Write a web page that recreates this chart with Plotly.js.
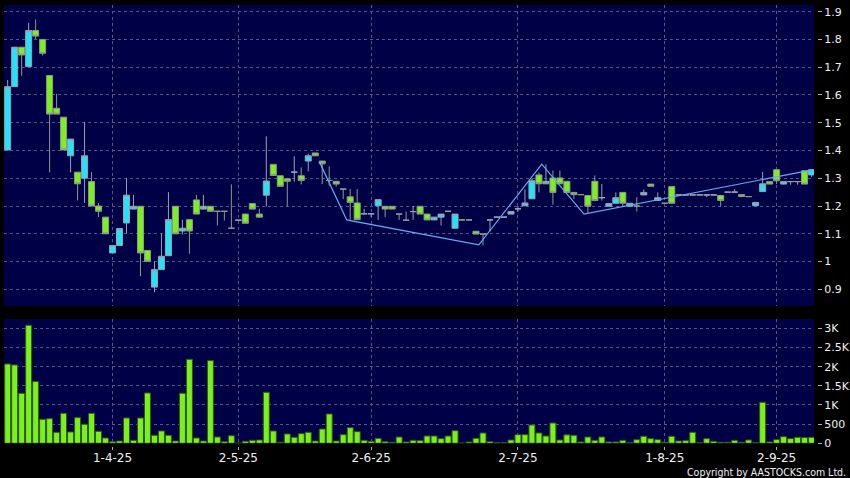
<!DOCTYPE html>
<html>
<head>
<meta charset="utf-8">
<script src="https://cdn.plot.ly/plotly-3.0.1.min.js"></script>
<style>
html,body{margin:0;padding:0;background:#000;}
#chart{width:850px;height:478px;}
</style>
</head>
<body>
<div id="chart"></div>
<script>
// ---- data ----
const openP = [1.402,1.630,1.772,1.702,1.832,1.800,1.670,1.552,1.520,1.381,
  1.322,1.300,1.288,1.200,1.160,1.031,1.058,1.139,1.189,1.199,
  1.040,0.908,0.971,1.021,1.199,1.110,1.151,1.222,1.189,1.199,
  1.181,1.181,1.120,1.149,1.171,1.209,1.171,1.239,1.350,1.309,
  1.298,1.322,1.309,1.362,1.391,1.362,1.292,1.289,1.261,1.233,
  1.211,1.172,1.172,1.201,1.199,1.199,1.171,1.149,1.180,1.199,
  1.171,1.150,1.160,1.181,1.120,1.150,1.150,1.109,1.099,1.150,
  1.160,1.160,1.171,1.190,1.201,1.226,1.312,1.280,1.301,1.301,
  1.289,1.249,1.241,1.238,1.289,1.230,1.199,1.210,1.249,1.199,
  1.200,1.240,1.279,1.220,1.210,1.270,1.240,1.240,1.240,1.240,
  1.240,1.240,1.238,1.250,1.250,1.241,1.234,1.201,1.252,1.288,
  1.331,1.279,1.288,1.288,1.327,1.312];
const highP = [1.654,1.772,1.772,1.860,1.872,1.800,1.670,1.604,1.520,1.441,
  1.322,1.502,1.322,1.211,1.160,1.058,1.119,1.300,1.240,1.200,
  1.040,1.000,1.100,1.250,1.199,1.151,1.151,1.240,1.240,1.199,
  1.181,1.181,1.278,1.149,1.171,1.209,1.190,1.451,1.350,1.309,
  1.298,1.379,1.339,1.389,1.391,1.362,1.343,1.289,1.261,1.261,
  1.261,1.190,1.172,1.223,1.199,1.199,1.171,1.180,1.200,1.199,
  1.171,1.160,1.171,1.181,1.171,1.150,1.150,1.109,1.099,1.150,
  1.160,1.160,1.180,1.200,1.260,1.298,1.321,1.350,1.328,1.328,
  1.289,1.249,1.241,1.238,1.310,1.279,1.209,1.249,1.249,1.210,
  1.232,1.260,1.279,1.249,1.210,1.270,1.240,1.240,1.240,1.240,
  1.240,1.240,1.238,1.250,1.261,1.241,1.234,1.213,1.323,1.288,
  1.331,1.288,1.288,1.288,1.327,1.331];
const lowP = [1.400,1.630,1.669,1.702,1.800,1.742,1.321,1.531,1.402,1.321,
  1.220,1.211,1.200,1.160,1.100,1.031,1.058,1.100,1.189,0.947,
  1.000,0.889,0.971,1.021,1.100,1.097,1.028,1.171,1.189,1.181,
  1.130,1.148,1.120,1.149,1.138,1.189,1.160,1.198,1.310,1.271,
  1.198,1.288,1.278,1.325,1.381,1.279,1.273,1.270,1.225,1.151,
  1.151,1.172,1.160,1.150,1.160,1.189,1.150,1.149,1.150,1.171,
  1.150,1.150,1.130,1.181,1.120,1.150,1.150,1.099,1.058,1.109,
  1.160,1.160,1.171,1.180,1.201,1.226,1.249,1.280,1.205,1.280,
  1.249,1.225,1.241,1.172,1.220,1.220,1.199,1.210,1.199,1.199,
  1.180,1.240,1.271,1.220,1.210,1.210,1.240,1.240,1.240,1.240,
  1.232,1.240,1.199,1.250,1.250,1.234,1.234,1.201,1.252,1.279,
  1.279,1.279,1.277,1.277,1.279,1.305];
const closeP = [1.630,1.772,1.744,1.832,1.812,1.750,1.531,1.531,1.402,1.441,
  1.280,1.381,1.200,1.181,1.100,1.058,1.119,1.239,1.199,1.031,
  1.000,0.971,1.019,1.151,1.100,1.120,1.110,1.171,1.199,1.181,
  1.181,1.181,1.120,1.149,1.138,1.189,1.160,1.290,1.310,1.271,
  1.289,1.322,1.292,1.381,1.381,1.352,1.292,1.279,1.261,1.213,
  1.151,1.172,1.172,1.223,1.189,1.189,1.171,1.149,1.180,1.171,
  1.150,1.160,1.171,1.181,1.171,1.150,1.150,1.099,1.099,1.150,
  1.160,1.160,1.180,1.190,1.211,1.291,1.280,1.289,1.249,1.280,
  1.249,1.241,1.241,1.199,1.220,1.230,1.209,1.230,1.210,1.210,
  1.200,1.249,1.271,1.230,1.210,1.210,1.240,1.240,1.240,1.240,
  1.240,1.240,1.220,1.250,1.250,1.234,1.234,1.213,1.280,1.279,
  1.291,1.288,1.288,1.288,1.279,1.331];
const volume = [2070,2045,1305,3080,1610,626,644,287,783,296,
  670,496,783,313,139,43,61,661,78,661,
  1314,209,322,209,61,1305,2192,139,61,2158,
  165,43,200,5,52,78,87,1331,322,26,
  244,157,252,287,61,374,766,61,226,409,
  304,78,52,130,43,26,165,35,78,70,
  191,191,122,191,330,5,35,130,270,43,
  17,17,87,226,226,478,270,191,530,87,
  220,209,35,165,78,165,35,35,78,17,
  96,183,122,96,26,183,61,70,287,17,
  122,52,26,26,78,26,87,17,1070,35,
  96,174,122,157,148,157];
// zig-zag line vertices (session position, price)
const zigX = [44.6, 48.5, 67.4, 76.4, 82.45, 115.3];
const zigY = [1.359, 1.150, 1.060, 1.351, 1.171, 1.331];
// axis ticks
const dateTickPos = [15, 33, 52, 73, 94, 110];
const dateTickText = ['1-4-25','2-5-25','2-6-25','2-7-25','1-8-25','2-9-25'];
const priceTicks = [0.9,1.0,1.1,1.2,1.3,1.4,1.5,1.6,1.7,1.8,1.9];
const priceTickText = ['0.9','1','1.1','1.2','1.3','1.4','1.5','1.6','1.7','1.8','1.9'];
const volTicks = [0,500,1000,1500,2000,2500,3000];
const volTickText = ['0','500','1K','1.5K','2K','2.5K','3K'];

// session positions (one per trading day)
const sessions = openP.map((_, i) => i);

const gridColor = '#56568a';
const tickFont = {family: 'DejaVu Sans, sans-serif', size: 11, color: '#f0f0f0'};

const traces = [
  {
    type: 'candlestick', x: sessions, open: openP, high: highP, low: lowP, close: closeP,
    xaxis: 'x', yaxis: 'y', whiskerwidth: 0, hoverinfo: 'skip',
    increasing: {line: {color: '#9aa0b4', width: 1}, fillcolor: '#22e4f4'},
    decreasing: {line: {color: '#8e9a88', width: 1}, fillcolor: '#7cf01e'}
  },
  {
    type: 'scatter', mode: 'lines', x: zigX, y: zigY, xaxis: 'x', yaxis: 'y',
    line: {color: '#62aef0', width: 1.2}, hoverinfo: 'skip'
  },
  {
    type: 'bar', x: sessions, y: volume, xaxis: 'x', yaxis: 'y2',
    marker: {color: '#7cf01e', line: {color: '#2e5a0c', width: 1}}, hoverinfo: 'skip'
  }
];

const layout = {
  width: 850, height: 478,
  paper_bgcolor: '#000000', plot_bgcolor: '#000046',
  margin: {l: 4, r: 33, t: 5, b: 32},
  showlegend: false,
  boxgap: 0.14, boxgroupgap: 0, bargap: 0.14,
  xaxis: {
    domain: [0, 0.99631], range: [-0.525, 115.35],
    anchor: 'free', position: 0,
    tickmode: 'array', tickvals: dateTickPos, ticktext: dateTickText,
    ticks: 'outside', ticklen: 3, tickcolor: '#b0b0b0', ticklabelstandoff: -2,
    showgrid: true, gridcolor: gridColor, griddash: '3px,3px', gridwidth: 1,
    showline: false, zeroline: false,
    tickfont: {family: 'DejaVu Sans, sans-serif', size: 12, color: '#f0f0f0'},
    rangeslider: {visible: false}, fixedrange: true
  },
  yaxis: {
    domain: [0.3175, 1], range: [0.840, 1.924],
    side: 'right', anchor: 'free', position: 1,
    tickmode: 'array', tickvals: priceTicks, ticktext: priceTickText,
    ticks: 'outside', ticklen: 4, tickcolor: '#b0b0b0',
    showgrid: true, gridcolor: gridColor, griddash: '3px,3px', gridwidth: 1,
    showline: false, zeroline: false, tickfont: tickFont, fixedrange: true
  },
  yaxis2: {
    domain: [0.0061, 0.2880], range: [0, 3243],
    side: 'right', anchor: 'free', position: 1,
    tickmode: 'array', tickvals: volTicks, ticktext: volTickText,
    ticks: 'outside', ticklen: 4, tickcolor: '#b0b0b0',
    showgrid: true, gridcolor: gridColor, griddash: '3px,3px', gridwidth: 1,
    showline: false, zeroline: false, tickfont: tickFont, fixedrange: true
  },
  annotations: [{
    text: 'Copyright by AASTOCKS.com Ltd.', showarrow: false,
    xref: 'paper', yref: 'paper', x: 1.0357, y: -0.0590, xshift: 2,
    xanchor: 'right', yanchor: 'middle',
    font: {family: 'DejaVu Sans Condensed, DejaVu Sans, sans-serif', size: 10.5, color: '#f0f0f0'}
  }]
};

Plotly.newPlot('chart', traces, layout, {staticPlot: true, displayModeBar: false});
</script>
</body>
</html>
